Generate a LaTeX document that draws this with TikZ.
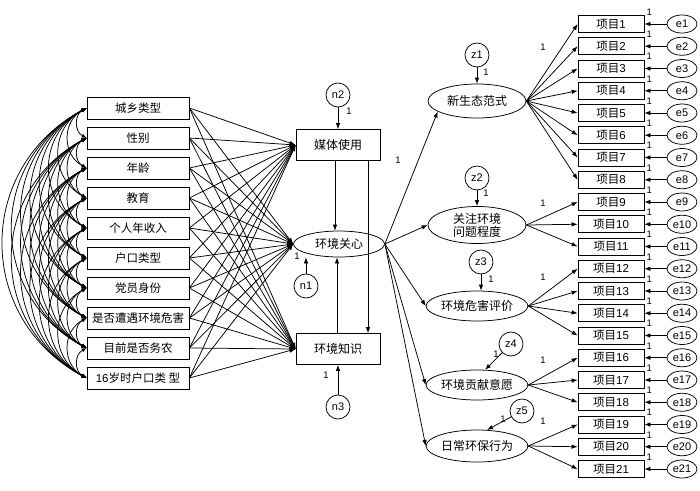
\documentclass[tikz,border=0pt]{standalone}
\usepackage{fontspec}
\setmainfont{Liberation Sans}
\newfontfamily\cjk{Noto Sans CJK SC}
\usetikzlibrary{arrows.meta,shapes.geometric}
\begin{document}
\begin{tikzpicture}[x=1pt,y=-1pt,line width=0.75pt,
  >={Latex[length=6pt,width=4.5pt]},
  obs/.style={draw,rectangle,minimum width=102pt,minimum height=22pt,inner sep=0pt,font=\cjk\fontsize{11.5}{13}\selectfont},
  mid/.style={draw,rectangle,minimum width=84pt,minimum height=31pt,inner sep=0pt,font=\cjk\fontsize{12}{14}\selectfont},
  lat/.style={draw,ellipse,minimum width=98pt,minimum height=32pt,inner sep=0pt,font=\cjk\fontsize{12}{14}\selectfont,align=center},
  item/.style={draw,rectangle,minimum width=66pt,minimum height=17pt,inner sep=0pt,font=\fontsize{11.5}{12}\selectfont},
  err/.style={draw,ellipse,minimum width=30pt,minimum height=18pt,inner sep=0pt,font=\fontsize{11}{12}\selectfont},
  dist/.style={draw,circle,minimum size=24pt,inner sep=0pt,font=\fontsize{11}{12}\selectfont},
  one/.style={font=\fontsize{9.5}{10}\selectfont,inner sep=0pt}]
\useasboundingbox[fill=white] (0,0) rectangle (700,490);

% left observed variables
\node[obs] (b1) at (138,108) {城乡类型};
\node[obs] (b2) at (138,138) {性别};
\node[obs] (b3) at (138,168) {年龄};
\node[obs] (b4) at (138,198) {教育};
\node[obs] (b5) at (138,228) {个人年收入};
\node[obs] (b6) at (138,258) {户口类型};
\node[obs] (b7) at (138,288) {党员身份};
\node[obs] (b8) at (138,318) {是否遭遇环境危害};
\node[obs] (b9) at (138,348) {目前是否务农};
\node[obs] (b10) at (138,378) {{\fontspec{Liberation Sans}16}岁时户口类 型};

% middle
\node[mid] (m) at (338,145) {媒体使用};
\node[draw,ellipse,minimum width=91pt,minimum height=26pt,inner sep=0pt,font=\cjk\fontsize{12}{14}\selectfont] (c) at (339,244) {环境关心};
\node[mid] (k) at (338,349) {环境知识};
\node[dist] (n2) at (338,95) {n2};
\node[dist] (n1) at (306,286) {n1};
\node[dist] (n3) at (338,407) {n3};
\draw[->] (n2) -- (m);
\draw[->] (n1) -- (n1 |- c.south);
\draw[->] (n3) -- (k);
\node[one] at (349,111) {1};
\node[one] at (297,256) {1};
\node[one] at (326,375) {1};

\coordinate (m1) at ([xshift=-3pt]m.south);
\coordinate (m2) at ([xshift=30pt]m.south);
\coordinate (k1) at ([xshift=-1pt]k.north);
\draw[->] (m1) -- (m1 |- c.north);
\draw[->] (m2) -- (m2 |- k.north);
\draw[->] (k1) -- (k1 |- c.south);

% paths from left boxes
\foreach \i in {1,...,10}{
  \draw[->] (b\i.east) -- (m.west);
  \draw[->] (b\i.east) -- (c.west);
  \draw[->] (b\i.east) -- (k.west);
}

% covariances
\foreach \i in {1,...,9}{
  \pgfmathtruncatemacro\s{\i+1}
  \foreach \j in {\s,...,10}{
    \draw[<->,>={Latex[length=5pt,width=4pt]}] (b\i.west) to[bend right=62,looseness=1.2] (b\j.west);
  }
}

% latent variables
\node[lat,minimum height=34pt] (L1) at (477,101) {新生态范式};
\node[lat,minimum height=37pt,text width=60pt,font=\cjk\fontsize{12}{13}\selectfont] (L2) at (477,225) {关注环境\\问题程度};
\node[lat,minimum height=30pt] (L3) at (477,306) {环境危害评价};
\node[lat,minimum height=30pt] (L4) at (477,385) {环境贡献意愿};
\node[lat,minimum height=32pt] (L5) at (477,446) {日常环保行为};

\draw[->] (c.east) -- (L1.195);
\draw[->] (c.east) -- (L2.west);
\draw[->] (c.east) -- (L3.west);
\draw[->] (c.east) -- (L4.west);
\draw[->] (c.east) -- (L5.west);
\node[one] at (398,160) {1};

% disturbances
\node[dist] (z1) at (477,55) {z1};
\node[dist] (z2) at (477,178) {z2};
\node[dist] (z3) at (481,262) {z3};
\node[dist] (z4) at (511,344) {z4};
\node[dist] (z5) at (522,411) {z5};
\draw[->] (z1) -- (L1);
\draw[->] (z2) -- (L2);
\draw[->] (z3) -- (z3 |- L3.north);
\draw[->] (z4) -- (L4.62);
\draw[->] (z5) -- (L5.58);
\node[one] at (486,72) {1};
\node[one] at (486,193) {1};
\node[one] at (491,279) {1};
\node[one] at (496,354) {1};
\node[one] at (503,419) {1};

% items
\foreach \i in {1,...,21}{
  \pgfmathsetmacro\yy{24+22.25*(\i-1)}
  \node[item] (t\i) at (611,\yy) {{\cjk 项目}\i};
  \node[err] (e\i) at (682,\yy) {e\i};
  \draw[->] (e\i) -- (t\i);
  \node[one] at ([xshift=5pt,yshift=12pt]t\i.east) {1};
}
\foreach \i in {1,...,8}{\draw[->] (L1.east) -- (t\i.west);}
\foreach \i in {9,10,11}{\draw[->] (L2.east) -- (t\i.west);}
\foreach \i in {12,...,15}{\draw[->] (L3.east) -- (t\i.west);}
\foreach \i in {16,17,18}{\draw[->] (L4.east) -- (t\i.west);}
\foreach \i in {19,20,21}{\draw[->] (L5.east) -- (t\i.west);}
\node[one] at (543,47) {1};
\node[one] at (543,203) {1};
\node[one] at (543,277) {1};
\node[one] at (543,360) {1};
\node[one] at (543,421) {1};
\end{tikzpicture}
\end{document}
